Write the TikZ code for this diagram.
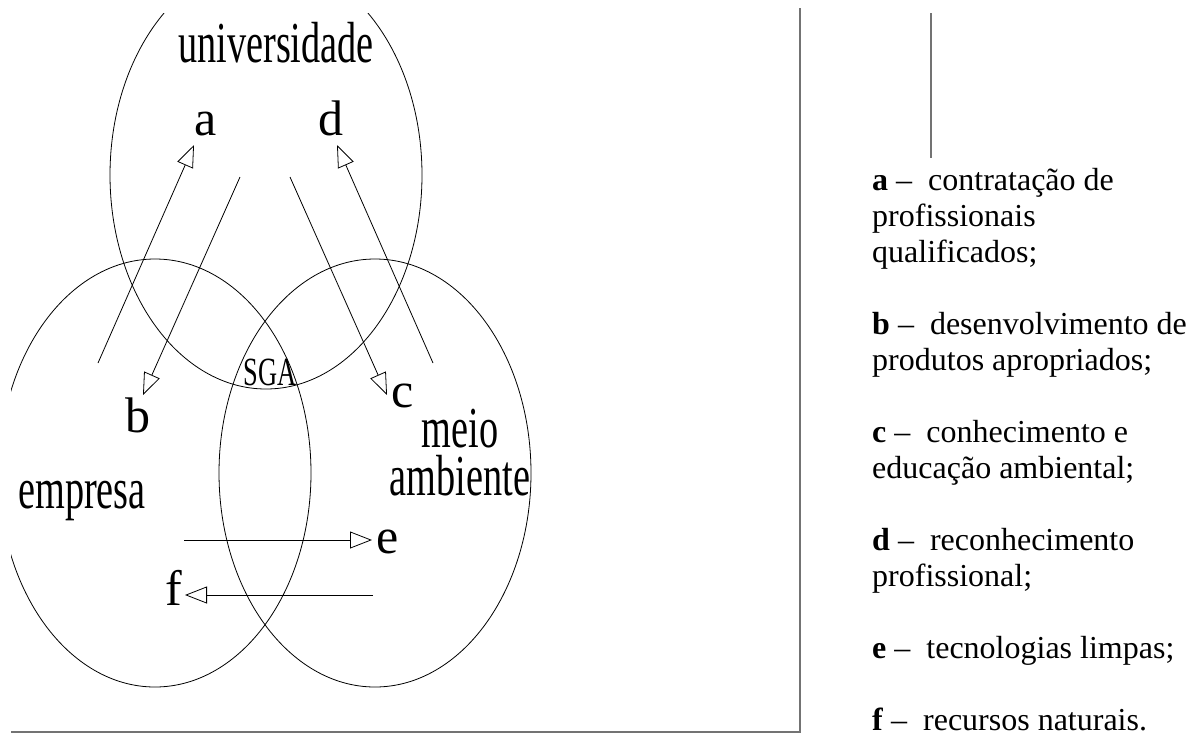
\documentclass[tikz,border=0pt]{standalone}
\usepackage{fontspec}
\setmainfont{Liberation Serif}
\newfontfamily\condensed[FakeStretch=0.66]{Liberation Serif}
\usetikzlibrary{arrows.meta}
\tikzset{
  blob/.style={draw=black, line width=0.8pt},
  biglabel/.style={inner sep=0pt, anchor=base, font=\condensed\fontsize{58}{48}\selectfont, align=center},
  letter/.style={inner sep=0pt, anchor=base, font=\fontsize{50}{50}\selectfont},
  flow/.style={draw=black, line width=0.8pt, -{Triangle[open, length=22pt, width=17pt, line width=0.8pt]}},
  frame/.style={draw=black!55, line width=1.6pt},
  legend/.style={inner sep=0pt, anchor=base west, align=left, font=\fontsize{32}{36}\selectfont}
}
\begin{document}
\begin{tikzpicture}[x=1pt, y=-1pt]
\useasboundingbox (0,0) rectangle (1190,747);
% ellipses
\begin{scope}
  \clip (11,13) rectangle (800,732);
  \draw[blob] (266,175) ellipse [x radius=156, y radius=214];
  \draw[blob] (155,473) ellipse [x radius=156, y radius=214];
  \draw[blob] (375,473) ellipse [x radius=156, y radius=214];
\end{scope}
% labels in the circles (base anchor = baseline of the last line)
\node[biglabel] (univ) at (276,62) {universidade};
\node[biglabel] (emp) at (82,508) {empresa};
\node[biglabel] (meio) at (460,495) {meio\\ambiente};
\node[biglabel, font=\condensed\fontsize{40}{40}\selectfont] (sga) at (270,385) {SGA};
\node[letter] (la) at (206,135) {a};
\node[letter] (ld) at (331,135) {d};
\node[letter] (lb) at (138,432) {b};
\node[letter] (lc) at (403,407) {c};
\node[letter] (le) at (388,553) {e};
\node[letter] (lf) at (174,605) {f};
% arrow end points
\coordinate (aS) at (98,363);  \coordinate (aT) at (194,145);
\coordinate (dS) at (433,363); \coordinate (dT) at (337,145);
\coordinate (bS) at (240,177); \coordinate (bT) at (143,395);
\coordinate (cS) at (290,177); \coordinate (cT) at (387,395);
\coordinate (eS) at (184,540); \coordinate (eT) at (372,540);
\coordinate (fS) at (373,595); \coordinate (fT) at (185,595);
\draw[flow] (aS) -- (aT);
\draw[flow] (dS) -- (dT);
\draw[flow] (bS) -- (bT);
\draw[flow] (cS) -- (cT);
\draw[flow] (eS) -- (eT);
\draw[flow] (fS) -- (fT);
% frame lines
\coordinate (fr1) at (800,8);
\coordinate (fr2) at (800,732);
\coordinate (fr3) at (11,732);
\draw[frame] (fr1) -- (fr2) -- (fr3);
\coordinate (v1) at (931,13);
\coordinate (v2) at (931,158);
\draw[draw=black!55, line width=1.2pt] (v1) -- (v2);
% legend (base anchor = baseline of the last line)
\node[legend] (ta) at (872,262) {\textbf{a} –\ \ contratação de\\profissionais\\qualificados;};
\node[legend] (tb) at (872,370) {\textbf{b} –\ \ desenvolvimento de\\produtos apropriados;};
\node[legend] (tc) at (872,478) {\textbf{c} –\ \ conhecimento e\\educação ambiental;};
\node[legend] (td) at (872,586) {\textbf{d} –\ \ reconhecimento\\profissional;};
\node[legend] (te) at (872,658) {\textbf{e} –\ \ tecnologias limpas;};
\node[legend] (tf) at (872,730) {\textbf{f} –\ \ recursos naturais.};
\end{tikzpicture}
\end{document}
